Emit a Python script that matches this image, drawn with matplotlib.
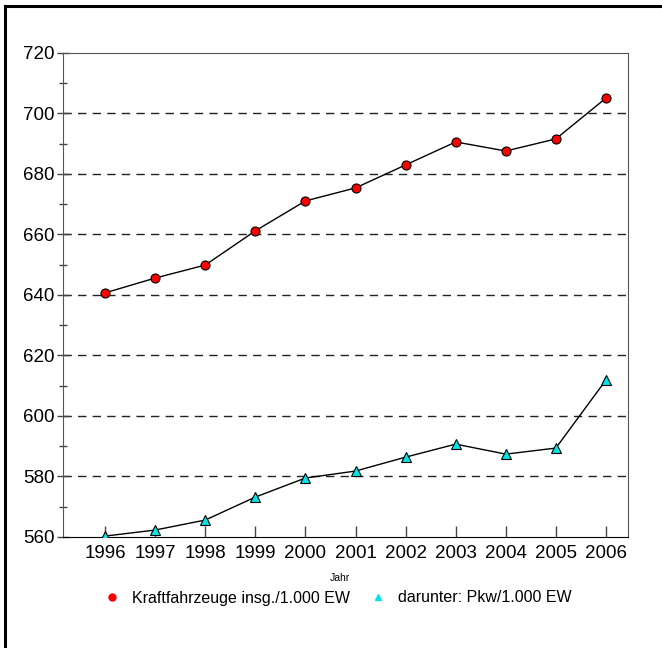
import matplotlib.pyplot as plt
from matplotlib.lines import Line2D
from matplotlib.ticker import MultipleLocator

years = [1996, 1997, 1998, 1999, 2000, 2001, 2002, 2003, 2004, 2005, 2006]
kfz = [640.7, 645.6, 649.9, 661.2, 671.1, 675.4, 683.0, 690.6, 687.6, 691.6, 705.1]
pkw = [560.3, 562.3, 565.6, 573.2, 579.5, 581.8, 586.4, 590.7, 587.4, 589.4, 611.9]

plt.rcParams['font.family'] = ['Liberation Sans', 'DejaVu Sans']

fig = plt.figure(figsize=(6.62, 6.48), dpi=100)
ax = fig.add_axes([63 / 662, 1 - 537 / 648, 565 / 662, 484 / 648])

ax.plot(years, kfz, color='black', lw=1, marker='o', ms=6.5,
        markerfacecolor='red', markeredgecolor='black', markeredgewidth=0.8, zorder=3)
ax.plot(years, pkw, color='black', lw=1, marker='^', ms=6.5,
        markerfacecolor='#00e5e5', markeredgecolor='black', markeredgewidth=0.8, zorder=3)

ax.set_xlim(1995.16, 2006.44)
ax.set_ylim(560, 720)
ax.set_xticks(years)
ax.yaxis.set_major_locator(MultipleLocator(20))
ax.yaxis.set_minor_locator(MultipleLocator(10))

# dashed lines at the inner major ticks
for y in range(580, 720, 20):
    ax.axhline(y, color='#222222', lw=1, dashes=(6, 4.5), zorder=1)

ax.tick_params(axis='x', direction='in', length=8, width=1, color='#444444',
               labelsize=13.5, pad=6)
ax.tick_params(axis='y', which='major', direction='inout', length=8, width=1,
               color='#444444', labelsize=13.5, pad=2)
ax.tick_params(axis='y', which='minor', direction='inout', length=6, width=1,
               color='#444444')

for s in ['top', 'right', 'left']:
    ax.spines[s].set_color('#555555')
ax.spines['bottom'].set_color('black')

fig.text(340 / 662, 1 - 578 / 648, 'Jahr', ha='center', va='center', fontsize=7.5)

handles = [Line2D([], [], ls='none', marker='o', ms=5, color='red'),
           Line2D([], [], ls='none', marker='^', ms=5, color='#00e5e5')]
fig.legend(handles, ['Kraftfahrzeuge insg./1.000 EW', 'darunter: Pkw/1.000 EW'],
           loc='center', bbox_to_anchor=(336 / 662, 1 - 598 / 648), ncol=2,
           frameon=False, fontsize=11.5, handletextpad=0.5, columnspacing=1.0,
           handlelength=1.5)

# frame lines only on top and left of the picture
fig.add_artist(Line2D([5 / 662, 1], [1 - 6 / 648, 1 - 6 / 648], color='black', lw=2.2,
                      transform=fig.transFigure))
fig.add_artist(Line2D([5 / 662, 5 / 662], [0, 1 - 6 / 648], color='black', lw=2.2,
                      transform=fig.transFigure))

fig.savefig('out.png', dpi=100)
